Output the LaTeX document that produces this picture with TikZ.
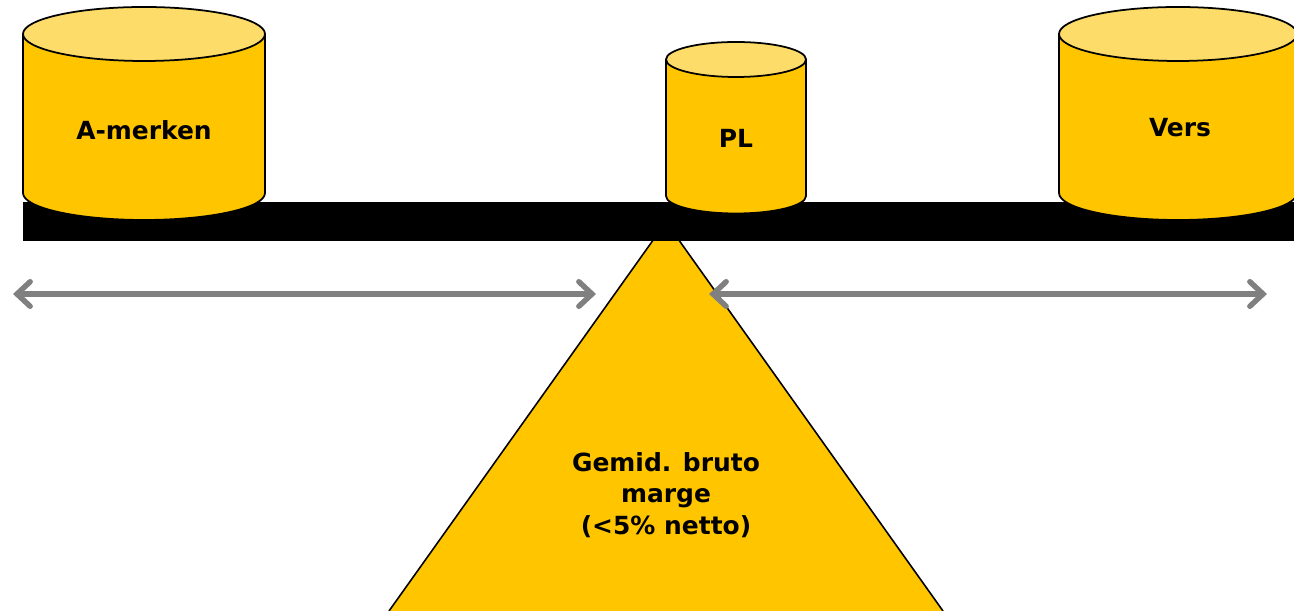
\documentclass[tikz,border=0pt]{standalone}
\usepackage{fontspec}
\setmainfont{DejaVu Sans}
\usetikzlibrary{arrows.meta}

\definecolor{goud}{HTML}{FFC600}
\definecolor{goudlicht}{HTML}{FDDC6A}
\definecolor{pijlgrijs}{HTML}{808080}

\tikzset{
  romp/.style={fill=goud,draw=black,line width=1pt},
  deksel/.style={fill=goudlicht,draw=black,line width=1pt},
  etiket/.style={font=\fontsize{14.2}{18}\selectfont\bfseries,align=center},
  pijl/.style={draw=pijlgrijs,line width=3.1pt,line cap=round,
    {Straight Barb[length=7.5pt,width=14pt,line cap=round]}-{Straight Barb[length=7.5pt,width=14pt,line cap=round]}}
}

\begin{document}
\begin{tikzpicture}[x=0.02cm,y=0.02cm]
\useasboundingbox (0,0) rectangle (1294,611);

% steunpunt
\draw[fill=goud,line width=0.9pt] (389,0) -- (666,389) -- (943,0);

% balk
\fill[black] (23,370) rectangle (1300,409);

% linker gewicht
\draw[romp] (23,577) -- (23,418) arc (180:360:121 and 27) -- (265,577) -- cycle;
\draw[deksel] (144,577) ellipse (121 and 27);

% middelste gewicht
\draw[romp] (666,551.5) -- (666,415) arc (180:360:70 and 17.5) -- (806,551.5) -- cycle;
\draw[deksel] (736,551.5) ellipse (70 and 17.5);

% rechter gewicht
\draw[romp] (1059,577) -- (1059,418) arc (180:360:119 and 27) -- (1297,577) -- cycle;
\draw[deksel] (1178,577) ellipse (119 and 27);

\node[etiket] (amerken) at (144,481) {A-merken};
\node[etiket] (pl) at (736,473) {PL};
\node[etiket] (vers) at (1180,483) {Vers};
\node[etiket] (marge) at (666,116) {Gemid. bruto\\marge\\(<5\% netto)};

% armen
\coordinate (links1) at (13,317);
\coordinate (links2) at (596,317);
\coordinate (rechts1) at (709,317);
\coordinate (rechts2) at (1267,317);
\draw[pijl] (links1) -- (links2);
\draw[pijl] (rechts1) -- (rechts2);
\end{tikzpicture}
\end{document}
